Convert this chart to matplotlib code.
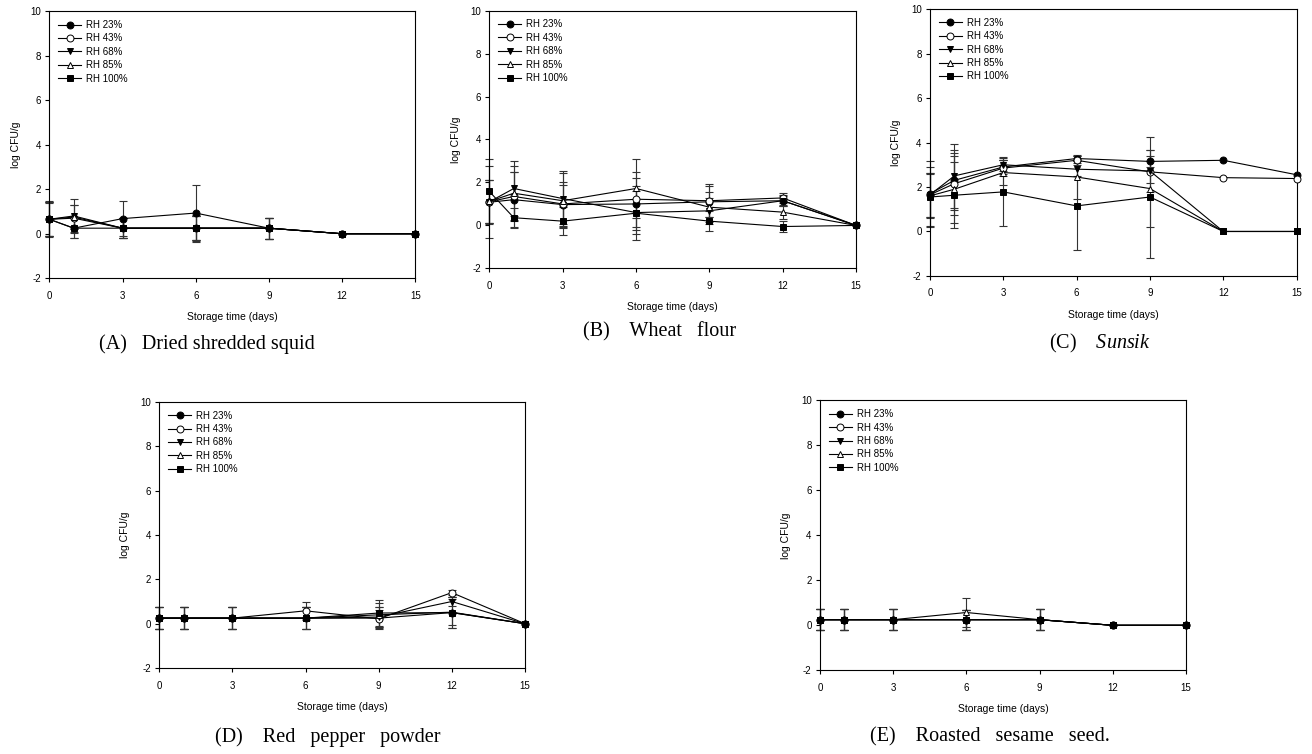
import numpy as np
import matplotlib.pyplot as plt

plt.rcParams['font.family'] = ['Liberation Sans', 'DejaVu Sans']
plt.rcParams['axes.unicode_minus'] = False
plt.rcParams['mathtext.fontset'] = 'custom'
plt.rcParams['mathtext.rm'] = 'Liberation Serif'
plt.rcParams['mathtext.it'] = 'Liberation Serif:italic'

days = [0, 1, 3, 6, 9, 12, 15]
series_labels = ['RH 23%', 'RH 43%', 'RH 68%', 'RH 85%', 'RH 100%']
markers = ['o', 'o', 'v', '^', 's']
faces = ['black', 'white', 'black', 'white', 'black']

# (A) dried shredded squid, rows = RH 23, 43, 68, 85, 100
squid_mean = [[0.65, 0.25, 0.68, 0.93, 0.25, 0, 0],
              [0.65, 0.70, 0.25, 0.25, 0.25, 0, 0],
              [0.65, 0.80, 0.25, 0.25, 0.25, 0, 0],
              [0.65, 0.75, 0.25, 0.25, 0.25, 0, 0],
              [0.65, 0.25, 0.25, 0.25, 0.25, 0, 0]]
squid_err = [[0.77, 0.45, 0.80, 1.27, 0.47, 0, 0],
             [0.75, 0.60, 0.45, 0.55, 0.47, 0, 0],
             [0.80, 0.78, 0.45, 0.60, 0.47, 0, 0],
             [0.77, 0.55, 0.45, 0.55, 0.47, 0, 0],
             [0.77, 0.45, 0.45, 0.55, 0.47, 0, 0]]

# (B) wheat flour
flour_mean = [[1.08, 1.20, 0.97, 1.00, 1.10, 1.15, 0],
              [1.10, 1.35, 1.00, 1.22, 1.15, 1.28, 0],
              [1.10, 1.72, 1.25, 0.60, 0.68, 1.15, 0],
              [1.12, 1.50, 1.15, 1.72, 0.85, 0.62, 0],
              [1.58, 0.36, 0.20, 0.57, 0.20, -0.05, 0]]
flour_err = [[1.67, 1.30, 0.90, 1.20, 0.73, 0.20, 0],
             [1.00, 1.15, 1.03, 1.28, 0.77, 0.25, 0],
             [1.00, 1.26, 1.30, 1.00, 0.60, 0.25, 0],
             [1.00, 1.25, 1.28, 1.38, 0.70, 0.30, 0],
             [1.52, 0.45, 0.65, 1.25, 0.45, 0.27, 0]]

# (C) Sunsik
sunsik_mean = [[1.70, 2.30, 2.90, 3.28, 3.15, 3.20, 2.55],
               [1.65, 2.15, 2.85, 3.20, 2.68, 2.42, 2.38],
               [1.65, 2.50, 3.00, 2.80, 2.72, 0, 0],
               [1.60, 1.90, 2.65, 2.45, 1.93, 0, 0],
               [1.55, 1.63, 1.78, 1.15, 1.55, 0, 0]]
sunsik_err = [[1.45, 1.35, 0.30, 0.12, 0.25, 0, 0],
              [1.00, 1.40, 0.35, 0.20, 0.50, 0, 0],
              [1.00, 1.45, 0.30, 0.30, 0.93, 0, 0],
              [1.00, 1.50, 0.55, 1.00, 1.75, 0, 0],
              [1.35, 1.48, 1.55, 2.00, 2.72, 0, 0]]

# (D) red pepper powder
pepper_mean = [[0.25, 0.25, 0.25, 0.25, 0.25, 0.50, 0],
               [0.25, 0.25, 0.25, 0.58, 0.22, 1.40, 0],
               [0.25, 0.25, 0.25, 0.25, 0.30, 1.00, 0],
               [0.25, 0.25, 0.25, 0.25, 0.40, 0.52, 0],
               [0.25, 0.25, 0.25, 0.25, 0.48, 0.50, 0]]
pepper_err = [[0.48, 0.48, 0.48, 0.48, 0.48, 0.70, 0],
              [0.48, 0.48, 0.48, 0.42, 0.40, 0.10, 0],
              [0.48, 0.48, 0.48, 0.48, 0.45, 0.20, 0],
              [0.48, 0.48, 0.48, 0.48, 0.55, 0.60, 0],
              [0.48, 0.48, 0.48, 0.48, 0.57, 0.70, 0]]

# (E) roasted sesame seed
sesame_mean = [[0.25, 0.25, 0.25, 0.25, 0.25, 0, 0],
               [0.25, 0.25, 0.25, 0.25, 0.25, 0, 0],
               [0.25, 0.25, 0.25, 0.25, 0.25, 0, 0],
               [0.25, 0.25, 0.25, 0.57, 0.25, 0, 0],
               [0.25, 0.25, 0.25, 0.25, 0.25, 0, 0]]
sesame_err = [[0.48, 0.48, 0.48, 0.45, 0.48, 0, 0],
              [0.48, 0.48, 0.48, 0.45, 0.48, 0, 0],
              [0.48, 0.48, 0.48, 0.45, 0.48, 0, 0],
              [0.48, 0.48, 0.48, 0.66, 0.48, 0, 0],
              [0.48, 0.48, 0.48, 0.45, 0.48, 0, 0]]


def draw_panel(ax, means, errs):
    x = np.array(days)
    for i in range(5):
        m = np.array(means[i])
        e = np.array(errs[i])
        keep = e > 0
        eb = ax.errorbar(x[keep], m[keep], yerr=e[keep], fmt='none', ecolor='#333333',
                         elinewidth=0.8, capsize=3, capthick=0.8, zorder=2)
        for art in eb.lines[1] + eb.lines[2]:
            art.set_clip_on(False)
        ax.plot(x, m, color='black', lw=0.8, marker=markers[i], ms=5,
                mfc=faces[i], mec='black', mew=0.7, label=series_labels[i],
                zorder=3, clip_on=False)
    ax.set_xlim(0, 15)
    ax.set_ylim(-2, 10)
    ax.set_xticks(range(0, 16, 3))
    ax.set_yticks(range(-2, 11, 2))
    ax.tick_params(direction='out', length=3, width=0.8, labelsize=7)
    ax.tick_params(axis='x', pad=6)
    ax.tick_params(axis='y', pad=3)
    for s in ax.spines.values():
        s.set_linewidth(0.8)
    ax.set_xlabel('Storage time (days)', fontsize=7.5, labelpad=8)
    ax.set_ylabel('log CFU/g', fontsize=7.5, labelpad=7)
    ax.legend(loc='upper left', frameon=False, fontsize=7, handlelength=2.4,
              handletextpad=0.5, labelspacing=0.35, borderaxespad=0.5)


fig = plt.figure(figsize=(13.12, 7.54), dpi=100)

panels = [
    ([0.0376, 0.631, 0.279, 0.354], squid_mean, squid_err),
    ([0.373, 0.644, 0.2795, 0.342], flour_mean, flour_err),
    ([0.7088, 0.634, 0.2795, 0.354], sunsik_mean, sunsik_err),
    ([0.1214, 0.114, 0.2787, 0.353], pepper_mean, pepper_err),
    ([0.625, 0.111, 0.279, 0.358], sesame_mean, sesame_err),
]
for rect, means, errs in panels:
    ax = fig.add_axes(rect)
    draw_panel(ax, means, errs)

cap_kw = dict(fontsize=14.5, family='Liberation Serif', ha='center', va='center')
fig.text(0.158, 0.543, '(A)   Dried shredded squid', **cap_kw)
fig.text(0.503, 0.560, '(B)    Wheat   flour', **cap_kw)
fig.text(0.838, 0.545, r'(C)    $\mathit{Sunsik}$', **cap_kw)
fig.text(0.25, 0.0225, '(D)    Red   pepper   powder', **cap_kw)
fig.text(0.7546, 0.0225, '(E)    Roasted   sesame   seed.', **cap_kw)

plt.savefig('out.png', dpi=100)
plt.close()
